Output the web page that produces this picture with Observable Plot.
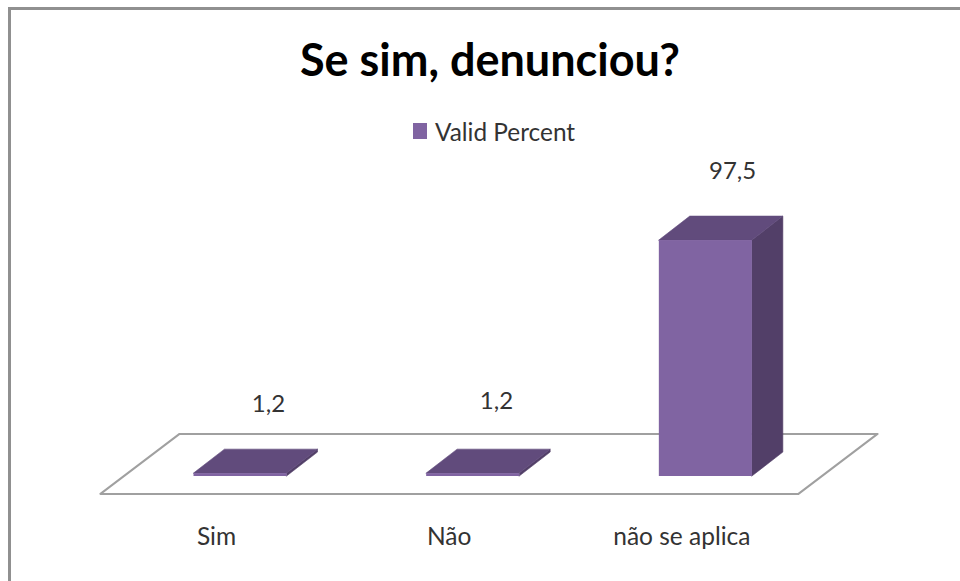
<!DOCTYPE html>
<html>
<head>
<meta charset="utf-8">
<script src="https://cdn.jsdelivr.net/npm/d3@7"></script>
<script src="https://cdn.jsdelivr.net/npm/@observablehq/plot@0.6"></script>
<style>
  html, body { margin: 0; padding: 0; background: #fff; overflow: hidden; }
  #chart { position: relative; width: 960px; height: 581px; font-family: Lato, "Open Sans", sans-serif; }
  #frame { position: absolute; left: 8px; top: 7px; right: 0; bottom: 0; border-top: 3px solid #909090; border-left: 3px solid #909090; }
  #title { position: absolute; left: 0; width: 980px; top: 35px; text-align: center; font-size: 45px; font-weight: 700; color: #000; line-height: 48px; }
  #legend { position: absolute; left: 413px; top: 117px; height: 28px; display: flex; align-items: center; font-size: 24.4px; color: #333; }
  #legend i { display: block; width: 14px; height: 16px; background: #8064a2; margin-right: 8px; }
  #plot { position: absolute; left: 0; top: 150px; }
  svg { display: block; }
</style>
</head>
<body>
<div id="chart">
  <div id="frame"></div>
  <div id="title">Se sim, denunciou?</div>
  <div id="legend"><i></i><span>Valid Percent</span></div>
  <div id="plot"></div>
</div>
<script>
const categories = ["Sim", "Não", "não se aplica"];
const values = [1.2, 1.2, 97.5];
const valueLabels = ["1,2", "1,2", "97,5"];
const labelLift = [28.5, 29.7, 28.5];
const labelShift = [0.12, 0.10, 0.115];

const halfBar = 0.2;
const depthX = 0.133;
const depthY = 9.9;
const floorFront = -7.4;
const floorBack = 17.4;
const floorShift = 0.34;

const rows = categories.map((c, i) => ({ i, c, v: values[i] }));
const floor = [
  { y: floorFront, x1: -0.5 - 0.1, x2: 2.5 - 0.1 },
  { y: floorBack, x1: -0.5 - 0.1 + floorShift, x2: 2.5 - 0.1 + floorShift }
];
const topFace = rows.flatMap(d => [
  { i: d.i, y: d.v, x1: d.i - halfBar, x2: d.i + halfBar },
  { i: d.i, y: d.v + depthY, x1: d.i - halfBar + depthX, x2: d.i + halfBar + depthX }
]);
const sideFace = rows.flatMap(d => [
  { i: d.i, x: d.i + halfBar, y1: 0, y2: d.v },
  { i: d.i, x: d.i + halfBar + depthX, y1: depthY, y2: d.v + depthY }
]);

const plot = Plot.plot({
  width: 960,
  height: 431,
  marginBottom: 55,
  style: { background: "transparent", fontFamily: "Lato, 'Open Sans', sans-serif" },
  x: { type: "linear", domain: [-0.5, 2.5], range: [123.7, 821.7], axis: null },
  y: { domain: [0, 100], range: [326, 84], axis: null },
  marks: [
    Plot.areaX(floor, { y: "y", x1: "x1", x2: "x2", fill: "#fff", stroke: "#a0a0a0", strokeWidth: 2 }),
    Plot.areaY(sideFace, { x: "x", y1: "y1", y2: "y2", z: "i", fill: "#523f68", stroke: "#523f68", strokeWidth: 0.6 }),
    Plot.areaX(topFace, { y: "y", x1: "x1", x2: "x2", z: "i", fill: "#614b7c", stroke: "#614b7c", strokeWidth: 0.6 }),
    Plot.rect(rows, { x1: d => d.i - halfBar, x2: d => d.i + halfBar, y1: 0, y2: "v", fill: "#8064a2" }),
    Plot.text(rows, {
      x: d => d.i + labelShift[d.i],
      y: d => d.v + labelLift[d.i],
      text: d => valueLabels[d.i],
      fontSize: 24,
      fill: "#333"
    }),
    Plot.axisX({
      ticks: [0, 1, 2],
      tickFormat: i => categories[i],
      tickSize: 0,
      tickPadding: 0,
      dx: -24,
      dy: 1,
      label: null,
      fontSize: 24.5,
      color: "#333"
    })
  ]
});
document.getElementById("plot").appendChild(plot);
</script>
</body>
</html>
